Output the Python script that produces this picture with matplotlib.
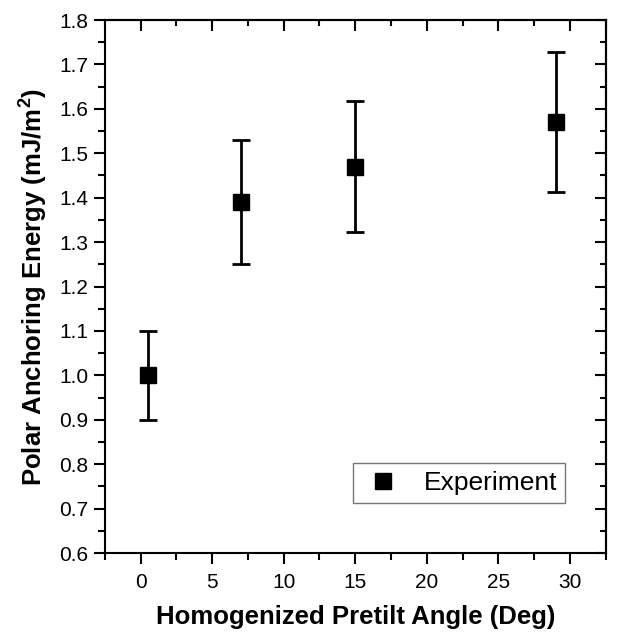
import matplotlib
matplotlib.use("Agg")
import matplotlib.pyplot as plt
from matplotlib.ticker import MultipleLocator, FormatStrFormatter

plt.rcParams['font.family'] = ['Liberation Sans', 'DejaVu Sans']
plt.rcParams['mathtext.fontset'] = 'custom'
plt.rcParams['mathtext.rm'] = 'Liberation Sans'
plt.rcParams['mathtext.bf'] = 'Liberation Sans:bold'

# data
angle = [0.5, 7, 15, 29]                    # pretilt angle (deg)
energy = [1.00, 1.39, 1.47, 1.57]           # polar anchoring energy (mJ/m^2)
err = [0.10, 0.139, 0.147, 0.157]           # error bar half-height

fig = plt.figure(figsize=(6.2, 6.35), dpi=100)
ax = fig.add_axes([0.169, 0.129, 0.808, 0.8395])

ax.errorbar(angle, energy, yerr=err, fmt='none', ecolor='black',
            elinewidth=2, capsize=6.5, capthick=2)
ax.plot(angle, energy, 's', color='black', ms=11.5, label='Experiment')

ax.set_xlim(-2.5, 32.5)
ax.set_ylim(0.6, 1.8)
ax.xaxis.set_major_locator(MultipleLocator(5))
ax.xaxis.set_minor_locator(MultipleLocator(2.5))
ax.yaxis.set_major_locator(MultipleLocator(0.1))
ax.yaxis.set_minor_locator(MultipleLocator(0.05))
ax.yaxis.set_major_formatter(FormatStrFormatter('%.1f'))

for s in ax.spines.values():
    s.set_linewidth(1.5)
ax.tick_params(which='major', direction='out', length=8, width=1.5, labelsize=15)
ax.tick_params(axis='x', which='major', pad=6)
ax.tick_params(axis='y', which='major', pad=4)
ax.tick_params(which='minor', direction='out', length=5, width=1.5)

# mirrored ticks pointing inward on top and right
top = ax.secondary_xaxis('top')
top.xaxis.set_major_locator(MultipleLocator(5))
top.xaxis.set_minor_locator(MultipleLocator(2.5))
top.tick_params(which='major', direction='in', length=8, width=1.5, labeltop=False)
top.tick_params(which='minor', direction='in', length=4, width=1.5)
right = ax.secondary_yaxis('right')
right.yaxis.set_major_locator(MultipleLocator(0.1))
right.yaxis.set_minor_locator(MultipleLocator(0.05))
right.tick_params(which='major', direction='in', length=8, width=1.5, labelright=False)
right.tick_params(which='minor', direction='in', length=4, width=1.5)
for sa in (top, right):
    for s in sa.spines.values():
        s.set_linewidth(1.5)

ax.set_xlabel('Homogenized Pretilt Angle (Deg)', fontsize=18.5, fontweight='bold', labelpad=10)
ax.set_ylabel(r'Polar Anchoring Energy (mJ/m$^\mathbf{2}$)', fontsize=18.5, fontweight='bold', labelpad=7)

leg = ax.legend(loc='lower left', bbox_to_anchor=(0.495, 0.094), fontsize=19,
                frameon=True, fancybox=False, edgecolor='#555555', borderpad=0.3,
                borderaxespad=0, handletextpad=0.7, handlelength=1.7)
leg.get_frame().set_linewidth(1.0)

fig.savefig('out.png', dpi=100)
